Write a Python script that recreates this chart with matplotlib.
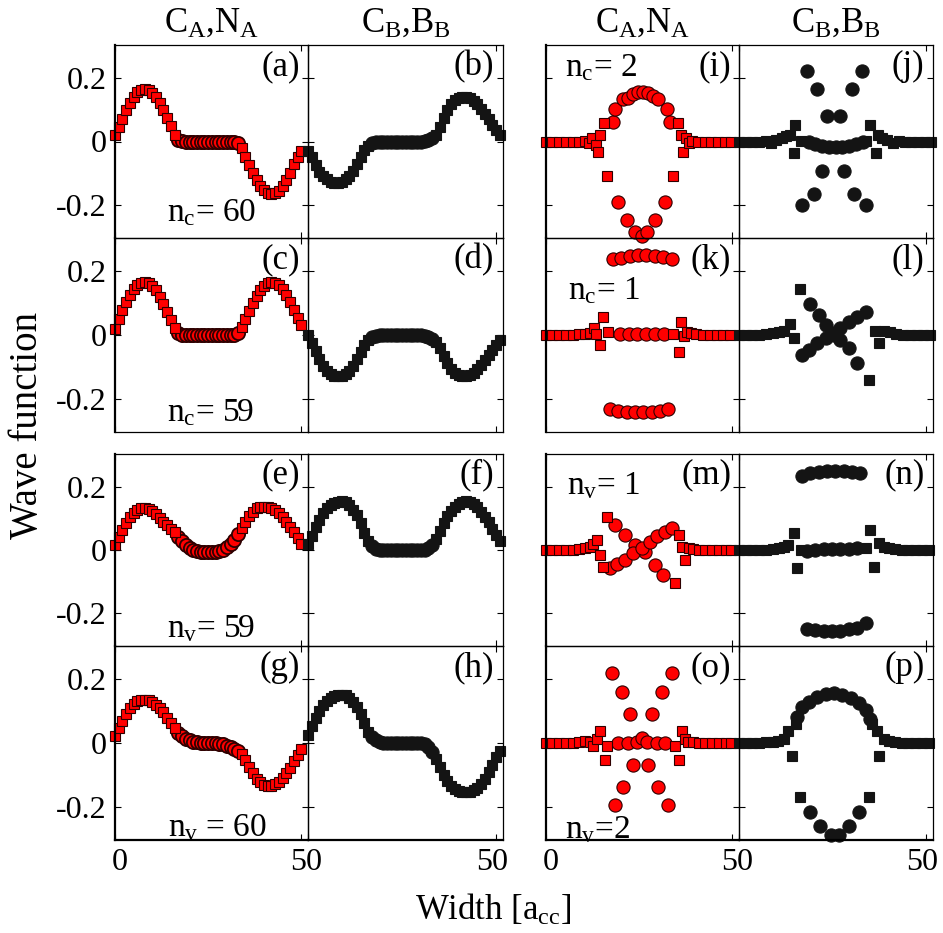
import numpy as np
import matplotlib
matplotlib.use("Agg")
import matplotlib.pyplot as plt
import matplotlib.transforms as mtransforms

plt.rcParams["font.family"] = ["Liberation Serif", "DejaVu Serif"]
plt.rcParams["mathtext.fontset"] = "custom"
plt.rcParams["mathtext.rm"] = "Liberation Serif"
plt.rcParams["mathtext.it"] = "Liberation Serif:italic"

# site positions across the ribbon width [a_cc] for the two left columns
x_l = np.arange(0, 17)     # C sites, left part
x_m = np.arange(17, 34)    # N / B sites, middle part
x_r = np.arange(34, 51)    # C sites, right part (red panels)
x_rb = np.arange(34, 52)   # C sites, right part (black panels)

# ---- (a) n_c = 60 ----
a_sq_l = [0.020, 0.046, 0.072, 0.098, 0.122, 0.141, 0.155, 0.163, 0.165, 0.162, 0.153, 0.140, 0.122, 0.100, 0.075, 0.048, 0.022]
a_ci = [0.006, 0.001, 0, 0, 0, 0, 0, 0, 0, 0, 0, 0, 0, 0, 0, -0.001, -0.006]
a_sq_r = [-0.022, -0.048, -0.075, -0.100, -0.122, -0.140, -0.153, -0.162, -0.165, -0.163, -0.155, -0.141, -0.122, -0.098, -0.072, -0.048, -0.030]
# ---- (b) ----
b_sq_l = [-0.030, -0.050, -0.075, -0.095, -0.110, -0.120, -0.127, -0.130, -0.130, -0.127, -0.120, -0.108, -0.092, -0.070, -0.048, -0.028, -0.014]
b_ci = [-0.006, -0.002, 0, 0, 0, 0, 0, 0, 0, 0, 0, 0, 0, 0, 0.002, 0.006, 0.012]
b_sq_r = [0.022, 0.045, 0.075, 0.100, 0.120, 0.132, 0.138, 0.140, 0.140, 0.136, 0.128, 0.117, 0.103, 0.087, 0.070, 0.052, 0.035, 0.020]
# ---- (c) n_c = 59 ----
c_sq_l = [0.020, 0.050, 0.078, 0.104, 0.127, 0.145, 0.157, 0.164, 0.166, 0.163, 0.154, 0.140, 0.120, 0.097, 0.072, 0.046, 0.022]
c_ci = [0.006, 0.001, 0, 0, 0, 0, 0, 0, 0, 0, 0, 0, 0, 0, 0, 0.001, 0.006]
c_sq_r = [0.025, 0.050, 0.076, 0.100, 0.122, 0.141, 0.155, 0.163, 0.166, 0.164, 0.157, 0.145, 0.127, 0.104, 0.078, 0.052, 0.030]
# ---- (d) ----
d_sq_l = [0.000, -0.025, -0.050, -0.075, -0.097, -0.113, -0.123, -0.128, -0.130, -0.128, -0.122, -0.112, -0.097, -0.077, -0.054, -0.032, -0.015]
d_ci = [-0.006, -0.002, 0, 0, 0, 0, 0, 0, 0, 0, 0, 0, 0, 0, -0.002, -0.006, -0.012]
d_sq_r = [-0.022, -0.042, -0.066, -0.088, -0.106, -0.118, -0.126, -0.130, -0.130, -0.126, -0.118, -0.107, -0.094, -0.080, -0.064, -0.047, -0.031, -0.017]
# ---- (e) n_v = 59 ----
e_sq_l = [0.016, 0.040, 0.064, 0.086, 0.104, 0.118, 0.128, 0.133, 0.134, 0.131, 0.124, 0.114, 0.102, 0.090, 0.079, 0.068, 0.056]
e_ci = [0.042, 0.028, 0.016, 0.007, 0.001, -0.003, -0.005, -0.006, -0.006, -0.006, -0.005, -0.003, 0.001, 0.008, 0.019, 0.033, 0.050]
e_sq_r = [0.070, 0.090, 0.107, 0.122, 0.132, 0.137, 0.138, 0.136, 0.132, 0.126, 0.118, 0.105, 0.090, 0.073, 0.056, 0.037, 0.018]
# ---- (f) ----
f_sq_l = [0.020, 0.045, 0.072, 0.096, 0.116, 0.132, 0.143, 0.150, 0.154, 0.155, 0.152, 0.143, 0.128, 0.110, 0.085, 0.055, 0.028]
f_ci = [0.012, 0.004, 0, 0, 0, 0, 0, 0, 0, 0, 0, 0, 0, 0, 0, 0.005, 0.015]
f_sq_r = [0.035, 0.060, 0.085, 0.107, 0.124, 0.137, 0.147, 0.153, 0.155, 0.153, 0.147, 0.136, 0.122, 0.106, 0.088, 0.068, 0.048, 0.030]
# ---- (g) n_v = 60 ----
g_sq_l = [0.022, 0.046, 0.070, 0.092, 0.110, 0.123, 0.131, 0.135, 0.136, 0.134, 0.129, 0.121, 0.110, 0.097, 0.080, 0.062, 0.046]
g_ci = [0.032, 0.022, 0.014, 0.008, 0.004, 0.002, 0, 0, 0, 0, 0, -0.002, -0.004, -0.008, -0.013, -0.019, -0.026]
g_sq_r = [-0.036, -0.055, -0.075, -0.095, -0.112, -0.124, -0.131, -0.134, -0.134, -0.130, -0.122, -0.110, -0.095, -0.078, -0.058, -0.038, -0.020]
# ---- (h) ----
h_sq_l = [0.025, 0.055, 0.080, 0.102, 0.120, 0.133, 0.142, 0.148, 0.151, 0.152, 0.150, 0.143, 0.130, 0.113, 0.090, 0.062, 0.036]
h_ci = [0.018, 0.008, 0.003, 0, 0, 0, 0, 0, 0, 0, 0, 0, 0, 0, -0.003, -0.012, -0.028]
h_sq_r = [-0.050, -0.075, -0.100, -0.120, -0.135, -0.145, -0.151, -0.154, -0.155, -0.153, -0.148, -0.140, -0.128, -0.112, -0.092, -0.068, -0.045, -0.025]

# ---- (i) n_c = 2 ----
i_sq_x = [0, 1.8, 3.6, 5.4, 7.2, 9.0, 10.5, 11.6, 12.4, 13.4, 14.1, 14.6, 15.6, 16.3,
          34.2, 35.5, 36.3, 36.9, 37.6, 38.4, 39.3, 40.8, 42.6, 44.4, 46.2, 48.0, 49.6]
i_sq_y = [0, 0, 0, 0, 0, 0, 0.003, -0.005, 0.012, -0.010, -0.032, 0.020, 0.058, -0.109,
          -0.109, 0.058, 0.020, -0.032, 0.012, -0.005, 0.003, 0, 0, 0, 0, 0, 0]
i_ci_x = [18.1, 18.6, 20.8, 22.1, 23.5, 24.8, 26.2, 27.5, 28.8, 30.2, 32.4, 33.3,
          19.5, 21.7, 23.9, 25.7, 27.1, 29.3, 32.0]
i_ci_y = [0.061, 0.103, 0.134, 0.139, 0.150, 0.155, 0.155, 0.152, 0.145, 0.134, 0.103, 0.061,
          -0.192, -0.249, -0.285, -0.300, -0.285, -0.249, -0.192]
# ---- (j) ----
j_sq_x = [0, 1.8, 3.6, 5.4, 7.2, 8.6, 10.0, 11.4, 12.6, 13.6, 14.6, 15.0, 16.6,
          34.0, 35.1, 36.5, 37.1, 38.3, 39.6, 41.0, 42.6, 44.2, 46.0, 47.8, 49.6, 51.2]
j_sq_y = [0, 0, 0, 0, 0.003, -0.005, 0.006, 0.010, 0.016, 0.022, -0.037, 0.051, 0.002,
          0.002, 0.051, -0.037, 0.022, 0.012, 0.006, -0.005, 0.003, 0, 0, 0, 0, 0]
j_ci_x = [18.1, 32.9, 20.8, 30.2, 23.5, 27.1, 22.2, 28.0, 19.9, 30.6, 16.8, 33.8,
          18.6, 20.4, 22.2, 24.0, 25.8, 27.6, 29.4, 31.2, 33.0]
j_ci_y = [0.222, 0.222, 0.165, 0.165, 0.082, 0.082, -0.094, -0.094, -0.166, -0.166, -0.202, -0.202,
          0.0, -0.008, -0.013, -0.017, -0.018, -0.017, -0.013, -0.008, 0.0]
# ---- (k) n_c = 1 ----
k_sq_x = [0, 1.8, 3.6, 5.4, 7.2, 9.0, 10.6, 12.0, 12.9, 13.6, 14.6, 15.4, 16.8,
          34.2, 35.6, 36.3, 37.0, 37.8, 38.9, 40.4, 42.2, 44.0, 45.8, 47.6, 49.4]
k_sq_y = [0, 0, 0, 0, 0, 0.003, 0.004, 0.006, 0.021, 0.002, -0.031, 0.057, 0.010,
          0.003, -0.052, 0.041, -0.004, 0.010, 0.006, 0.003, 0, 0, 0, 0, 0]
k_ci_x = [18.1, 20.3, 22.6, 24.8, 27.0, 29.3, 31.5, 33.8,
          17.2, 19.5, 21.7, 23.9, 26.2, 28.4, 30.6, 32.9,
          19.8, 22.2, 24.6, 27.0, 29.4, 31.6]
k_ci_y = [0.238, 0.243, 0.248, 0.252, 0.252, 0.248, 0.245, 0.238,
          -0.233, -0.238, -0.241, -0.243, -0.243, -0.241, -0.238, -0.233,
          0.002, 0.002, 0.002, 0.002, 0.002, 0.002]
# ---- (l) ----
l_sq_x = [0, 1.8, 3.6, 5.4, 7.2, 9.0, 10.6, 12.0, 13.7, 14.6, 16.4,
          34.7, 36.4, 37.3, 38.6, 40.2, 42.0, 43.8, 45.6, 47.4, 49.2, 51.0]
l_sq_y = [0, 0, 0, 0, 0.003, 0.005, 0.008, 0.014, 0.036, -0.010, 0.145,
          -0.140, 0.012, -0.026, 0.012, 0.008, 0.004, 0, 0, 0, 0, 0]
l_ci_x = [16.8, 18.6, 20.8, 23.1, 25.3, 27.1, 29.3, 31.6, 33.8,
          19.0, 21.3, 23.1, 25.3, 27.1, 29.3, 31.6]
l_ci_y = [-0.062, -0.047, -0.026, -0.010, 0.005, 0.021, 0.041, 0.057, 0.072,
          0.098, 0.062, 0.031, 0.000, -0.016, -0.041, -0.088]
# ---- (m) n_v = 1 ----
m_sq_x = [0, 1.8, 3.6, 5.4, 7.2, 9.0, 10.5, 11.9, 12.8, 13.7, 14.6, 15.4, 16.4,
          34.7, 35.6, 36.4, 37.3, 38.4, 39.6, 41.0, 42.8, 44.6, 46.4, 48.2, 49.6]
m_sq_y = [0, 0, 0, 0, 0, 0.003, 0.005, 0.010, 0.020, 0.032, -0.016, -0.053, 0.106,
          -0.106, 0.048, 0.010, -0.032, 0.005, 0.003, 0, 0, 0, 0, 0, 0]
m_ci_x = [18.6, 21.3, 23.9, 26.6, 29.3, 31.5,
          17.2, 19.0, 21.3, 23.5, 25.7, 28.0, 29.7, 32.0, 33.8]
m_ci_y = [0.080, 0.048, 0.016, -0.005, -0.048, -0.080,
          -0.058, -0.043, -0.032, -0.010, 0.005, 0.027, 0.043, 0.058, 0.069]
# ---- (n) ----
n_sq_x = [0, 1.8, 3.6, 5.4, 7.2, 9.0, 10.6, 12.0, 13.2, 14.6, 15.5, 16.6,
          34.0, 35.1, 36.0, 37.3, 38.6, 40.0, 41.6, 43.4, 45.2, 47.0, 48.8, 50.6]
n_sq_y = [0, 0, 0, 0, 0, 0.003, 0.005, 0.008, 0.016, 0.053, -0.058, 0.000,
          0.005, 0.064, -0.053, 0.021, 0.008, 0.005, 0.003, 0, 0, 0, 0, 0]
n_ci_x = [16.8, 19.0, 21.3, 23.5, 25.7, 28.0, 30.2, 32.4,
          18.1, 20.4, 22.6, 24.8, 27.1, 29.3, 31.6, 33.8,
          18.1, 20.4, 22.6, 24.8, 27.1, 29.3, 31.6]
n_ci_y = [0.234, 0.245, 0.248, 0.250, 0.250, 0.250, 0.248, 0.245,
          -0.250, -0.254, -0.256, -0.256, -0.256, -0.252, -0.247, -0.231,
          -0.002, 0.000, 0.002, 0.003, 0.003, 0.004, 0.006]
# ---- (o) n_v = 2 ----
o_sq_x = [0, 1.8, 3.6, 5.4, 7.2, 9.0, 10.5, 11.9, 12.8, 13.7, 14.6, 15.9, 16.4,
          34.7, 35.6, 36.5, 37.3, 38.2, 39.4, 41.0, 42.8, 44.6, 46.4, 48.2, 49.6]
o_sq_y = [0, 0, 0, 0, 0, 0.003, 0.005, 0.004, -0.010, 0.012, 0.038, -0.052, -0.010,
          -0.010, -0.052, 0.038, 0.012, 0.004, 0.003, 0, 0, 0, 0, 0, 0]
o_ci_x = [17.7, 20.4, 22.6, 28.4, 31.1, 33.8, 23.5, 27.5, 20.8, 30.2, 18.6, 32.9,
          19.5, 22.1, 24.4, 25.7, 27.1, 29.7, 32.0]
o_ci_y = [0.220, 0.161, 0.092, 0.092, 0.161, 0.220, -0.068, -0.068, -0.138, -0.138, -0.196, -0.196,
          0.000, 0.000, 0.003, 0.017, 0.003, 0.000, 0.000]
# ---- (p) ----
p_sq_x = [0, 1.8, 3.6, 5.4, 7.2, 9.0, 10.5, 12.0, 13.2, 14.1, 15.3, 16.4,
          34.7, 35.6, 36.9, 37.3, 38.6, 40.0, 41.6, 43.4, 45.2, 47.0, 48.8, 50.6]
p_sq_y = [0, 0, 0, 0, 0.002, 0.004, 0.006, 0.012, 0.038, -0.042, 0.060, -0.170,
          -0.170, 0.060, 0.038, -0.042, 0.012, 0.006, 0.004, 0, 0, 0, 0, 0]
p_ci_x = [15.5, 16.8, 18.6, 20.8, 23.1, 25.3, 27.5, 29.8, 32.0, 33.8, 34.9,
          19.0, 21.7, 24.6, 26.6, 29.3, 32.0]
p_ci_y = [0.081, 0.113, 0.129, 0.145, 0.153, 0.156, 0.150, 0.140, 0.126, 0.105, 0.075,
          -0.218, -0.261, -0.290, -0.290, -0.261, -0.218]

col_titles = [r"C$_\mathrm{A}$,N$_\mathrm{A}$", r"C$_\mathrm{B}$,B$_\mathrm{B}$",
              r"C$_\mathrm{A}$,N$_\mathrm{A}$", r"C$_\mathrm{B}$,B$_\mathrm{B}$"]
letters = [["a", "b", "i", "j"], ["c", "d", "k", "l"],
           ["e", "f", "m", "n"], ["g", "h", "o", "p"]]

RED = dict(mfc="#ff0000", mec="#2e0000")
BLACK = dict(mfc="#141414", mec="#141414")


def left_panel(sq_l, ci, sq_r, black):
    xr = x_rb if black else x_r
    return (np.concatenate([x_l, xr]), np.concatenate([sq_l, sq_r]), x_m, ci)


panels = [
    [left_panel(a_sq_l, a_ci, a_sq_r, False), left_panel(b_sq_l, b_ci, b_sq_r, True),
     (i_sq_x, i_sq_y, i_ci_x, i_ci_y), (j_sq_x, j_sq_y, j_ci_x, j_ci_y)],
    [left_panel(c_sq_l, c_ci, c_sq_r, False), left_panel(d_sq_l, d_ci, d_sq_r, True),
     (k_sq_x, k_sq_y, k_ci_x, k_ci_y), (l_sq_x, l_sq_y, l_ci_x, l_ci_y)],
    [left_panel(e_sq_l, e_ci, e_sq_r, False), left_panel(f_sq_l, f_ci, f_sq_r, True),
     (m_sq_x, m_sq_y, m_ci_x, m_ci_y), (n_sq_x, n_sq_y, n_ci_x, n_ci_y)],
    [left_panel(g_sq_l, g_ci, g_sq_r, False), left_panel(h_sq_l, h_ci, h_sq_r, True),
     (o_sq_x, o_sq_y, o_ci_x, o_ci_y), (p_sq_x, p_sq_y, p_ci_x, p_ci_y)],
]

# (row, col): text, x, baseline y
notes = {
    (0, 0): (r"n$_\mathrm{c}$= 60", 14.0, -0.252),
    (1, 0): (r"n$_\mathrm{c}$= 59", 14.0, -0.270),
    (2, 0): (r"n$_\mathrm{v}$= 59", 14.0, -0.278),
    (3, 0): (r"n$_\mathrm{v}$ = 60", 14.2, -0.292),
    (0, 2): (r"n$_\mathrm{c}$= 2", 5.2, 0.207),
    (1, 2): (r"n$_\mathrm{c}$= 1", 6.0, 0.114),
    (2, 2): (r"n$_\mathrm{v}$= 1", 5.7, 0.176),
    (3, 2): (r"n$_\mathrm{v}$=2", 5.2, -0.298),
}

W, H = 943, 933
col_px = [(115, 308), (308, 503), (545.7, 739), (739, 933)]
row_px = [(45, 238), (238, 432), (454, 646), (646, 840)]

fig = plt.figure(figsize=(W / 100, H / 100), dpi=100)

for r, (top, bot) in enumerate(row_px):
    for c, (lft, rgt) in enumerate(col_px):
        ax = fig.add_axes([lft / W, 1 - bot / H, (rgt - lft) / W, (bot - top) / H])
        ax.patch.set_visible(False)
        sx, sy, cx, cy = panels[r][c]
        style = RED if c in (0, 2) else BLACK
        # dense middle rows in the left columns show mostly the dark rims
        ci_mew = 1.3 if c == 0 else 0.8
        ax.plot(cx, cy, "o", ms=9.5, mew=ci_mew, ls="none", clip_on=False, **style)
        ax.plot(sx, sy, "s", ms=7.4, mew=0.8, ls="none", clip_on=False, **style)

        ax.set_xlim(0, 51.8)
        ax.set_ylim(-0.305, 0.305)
        ax.set_xticks([0, 50])
        ax.set_yticks([-0.2, 0, 0.2])
        ax.tick_params(direction="in", length=4, width=0.8, top=True, right=True,
                       labelsize=23, pad=6)
        for s in ax.spines.values():
            s.set_linewidth(0.9)
        if c in (0, 2):
            ax.spines["left"].set_linewidth(1.6)
        if r == 3:
            ax.spines["bottom"].set_linewidth(1.6)

        if c == 0:
            ax.set_yticklabels(["-0.2", "0", "0.2"])
        else:
            ax.tick_params(labelleft=False)
        if r == 3:
            ax.set_xticklabels(["0", "50"] if c in (0, 2) else ["", "50"])
            dx = 5 if c in (0, 2) else -4
            off = mtransforms.ScaledTranslation(dx / 100, 0, fig.dpi_scale_trans)
            for lab in ax.get_xticklabels():
                lab.set_transform(lab.get_transform() + off)
        else:
            ax.tick_params(labelbottom=False)

        ax.text(0.96 if c in (0, 2) else 0.955, 0.975, "(%s)" % letters[r][c],
                transform=ax.transAxes, ha="right", va="top", fontsize=25)
        if (r, c) in notes:
            txt, nx, ny = notes[(r, c)]
            ax.text(nx, ny, txt, ha="left", va="baseline", fontsize=24)
        if r == 0:
            ax.text(0.5, 1.069, col_titles[c], transform=ax.transAxes,
                    ha="center", va="baseline", fontsize=25)

fig.text(28 / W, 1 - 425 / H, "Wave function", rotation=90,
         ha="center", va="center", fontsize=28)
fig.text(493 / W, 1 - 920 / H, r"Width [a$_\mathrm{cc}$]",
         ha="center", va="baseline", fontsize=25)

fig.savefig("out.png", dpi=100)
